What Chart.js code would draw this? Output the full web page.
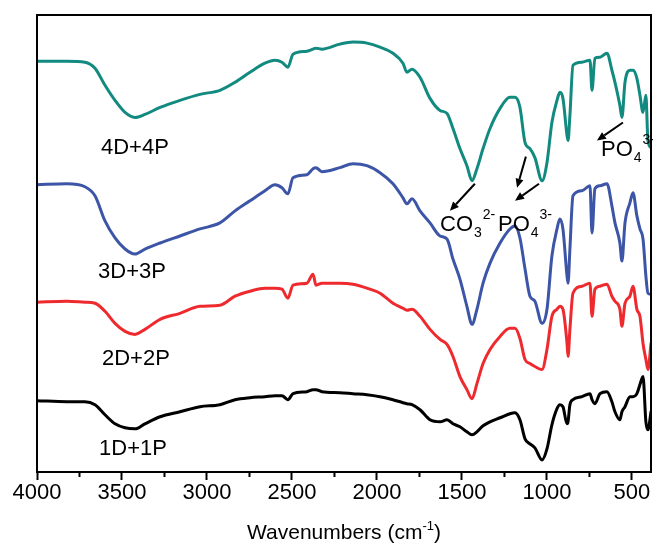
<!DOCTYPE html>
<html>
<head>
<meta charset="utf-8">
<script src="https://cdn.jsdelivr.net/npm/chart.js@4.4.1/dist/chart.umd.min.js"></script>
<style>
  html, body { margin: 0; padding: 0; background: #fff; }
  #wrap { width: 653px; height: 547px; }
</style>
</head>
<body>
<div id="wrap"><canvas id="ftir" width="653" height="547"></canvas></div>
<script>
// Wavenumbers (cm-1) where the spectra were read
const wavenumbers = [4000, 3824, 3718, 3659, 3600, 3541, 3482, 3424, 3365, 3276, 3159, 3041, 2924, 2835, 2747, 2659, 2600, 2559, 2524, 2494, 2412, 2376, 2359, 2324, 2218, 2141, 2059, 1982, 1906, 1847, 1824, 1794, 1747, 1688, 1629, 1588, 1553, 1512, 1471, 1441, 1412, 1376, 1335, 1276, 1218, 1188, 1159, 1129, 1100, 1071, 1029, 1000, 971, 941, 924, 906, 882, 876, 865, 847, 794, 747, 735, 718, 688, 647, 618, 600, 571, 559, 541, 512, 494, 471, 453, 435, 418, 406, 388];

// Transmittance (arbitrary units, curves stacked with offsets)
const t1D1P = [71, 70, 70, 67, 57, 48, 44, 43, 48, 55, 60, 65, 67, 72, 74, 75, 76, 76, 72, 78, 80, 82, 82, 80, 79, 78, 77, 75, 72, 69, 68, 67, 62, 52, 50, 52, 48, 45, 40, 37, 40, 46, 50, 54, 58, 59, 52, 33, 28, 24, 12, 23, 47, 63, 67, 65, 48, 50, 67, 72, 75, 78, 72, 68, 78, 80, 70, 60, 52, 60, 65, 75, 75, 78, 87, 95, 50, 42, 60];
const t2D2P = [169, 170, 169, 168, 160, 148, 140, 137, 142, 152, 158, 165, 166, 175, 180, 183, 183, 182, 173, 186, 188, 197, 186, 188, 188, 187, 183, 178, 168, 163, 161, 162, 155, 142, 132, 127, 115, 95, 82, 73, 88, 108, 122, 135, 143, 143, 133, 112, 108, 105, 102, 122, 155, 162, 165, 162, 128, 115, 142, 178, 185, 188, 155, 182, 185, 187, 175, 170, 162, 145, 168, 175, 185, 162, 155, 128, 112, 102, 128];
const t3D3P = [286, 287, 284, 275, 250, 233, 222, 217, 222, 228, 235, 242, 248, 260, 270, 280, 286, 283, 277, 293, 296, 302, 303, 299, 303, 307, 305, 298, 287, 273, 267, 272, 260, 248, 235, 232, 212, 192, 165, 147, 162, 188, 208, 228, 242, 245, 233, 202, 175, 170, 148, 162, 215, 242, 252, 242, 195, 188, 222, 275, 280, 285, 238, 282, 285, 287, 265, 248, 228, 210, 248, 268, 278, 255, 242, 232, 195, 178, 177];
const t4D4P = [409, 409, 408, 402, 385, 370, 358, 353, 356, 363, 370, 376, 380, 388, 398, 407, 410, 408, 403, 416, 419, 421, 422, 421, 426, 428, 427, 423, 417, 407, 398, 401, 393, 372, 360, 357, 342, 322, 305, 290, 302, 322, 342, 362, 373, 373, 363, 328, 322, 313, 290, 308, 348, 370, 378, 372, 335, 330, 355, 405, 408, 410, 380, 412, 413, 417, 400, 388, 365, 353, 388, 400, 400, 392, 375, 358, 375, 330, 323];

// Axis ticks
const majorTicks = [4000, 3500, 3000, 2500, 2000, 1500, 1000, 500];
const minorTicks = [3750, 3250, 2750, 2250, 1750, 1250, 750];

// Sample names and band assignments (placed in data units)
const sampleLabels = [
  { text: '4D+4P', x: 3424, y: 323 },
  { text: '3D+3P', x: 3441, y: 199 },
  { text: '2D+2P', x: 3418, y: 113 },
  { text: '1D+1P', x: 3435, y: 23 }
];
const bandLabels = [
  { main: 'CO', sub: '3', sup: '2-', x: 1629, y: 240 },
  { main: 'PO', sub: '4', sup: '3-', x: 1288, y: 240 },
  { main: 'PO', sub: '4', sup: '3-', x: 682, y: 315 }
];
const arrows = [
  { from: [1424, 287], to: [1571, 260] },
  { from: [1124, 314], to: [1176, 283] },
  { from: [1047, 287], to: [1188, 270] },
  { from: [553, 348], to: [706, 330] }
];

const FONT = 'Arial, "Liberation Sans", Helvetica, sans-serif';

function toPoints(values) {
  return wavenumbers.map((w, i) => ({ x: w, y: values[i] }));
}

function series(label, values, color) {
  return {
    label,
    data: toPoints(values),
    borderColor: color,
    borderWidth: 3,
    pointRadius: 0,
    cubicInterpolationMode: 'monotone',
    borderJoinStyle: 'round',
    borderCapStyle: 'round',
    fill: false
  };
}

// Frame, minor ticks, axis title and annotations
const overlay = {
  id: 'overlay',
  afterDraw(chart) {
    const { ctx, chartArea: a, scales: { x, y } } = chart;
    ctx.save();
    ctx.strokeStyle = '#000';
    ctx.fillStyle = '#000';
    ctx.lineWidth = 2;
    ctx.strokeRect(a.left, a.top, a.right - a.left, a.bottom - a.top);

    ctx.beginPath();
    minorTicks.forEach((v) => {
      const px = x.getPixelForValue(v);
      ctx.moveTo(px, a.bottom);
      ctx.lineTo(px, a.bottom + 5);
    });
    ctx.stroke();

    // axis title with superscript
    const cx = (a.left + a.right) / 2;
    const base = 539;
    ctx.textBaseline = 'alphabetic';
    ctx.textAlign = 'left';
    ctx.font = '21px ' + FONT;
    const p1 = 'Wavenumbers (cm', p3 = ')';
    const w1 = ctx.measureText(p1).width, w3 = ctx.measureText(p3).width;
    ctx.font = '13px ' + FONT;
    const w2 = ctx.measureText('-1').width;
    let sx = cx - (w1 + w2 + w3) / 2;
    ctx.font = '21px ' + FONT;
    ctx.fillText(p1, sx, base);
    ctx.font = '13px ' + FONT;
    ctx.fillText('-1', sx + w1, base - 9);
    ctx.font = '21px ' + FONT;
    ctx.fillText(p3, sx + w1 + w2, base);

    // sample names
    ctx.textAlign = 'center';
    ctx.textBaseline = 'middle';
    ctx.font = '22px ' + FONT;
    sampleLabels.forEach((l) => {
      ctx.fillText(l.text, x.getPixelForValue(l.x), y.getPixelForValue(l.y));
    });

    // ion labels
    ctx.textAlign = 'left';
    ctx.textBaseline = 'alphabetic';
    bandLabels.forEach((b) => {
      const bx = x.getPixelForValue(b.x), by = y.getPixelForValue(b.y);
      ctx.font = '22px ' + FONT;
      ctx.fillText(b.main, bx, by);
      const mw = ctx.measureText(b.main).width;
      ctx.font = '14px ' + FONT;
      ctx.fillText(b.sub, bx + mw + 1, by + 6);
      const sw = ctx.measureText(b.sub).width;
      ctx.fillText(b.sup, bx + mw + sw + 2, by - 12);
    });

    // arrows
    arrows.forEach((ar) => {
      const x0 = x.getPixelForValue(ar.from[0]), y0 = y.getPixelForValue(ar.from[1]);
      const x1 = x.getPixelForValue(ar.to[0]), y1 = y.getPixelForValue(ar.to[1]);
      const ang = Math.atan2(y1 - y0, x1 - x0);
      const hl = 9, hw = 4;
      const bxp = x1 - hl * Math.cos(ang), byp = y1 - hl * Math.sin(ang);
      ctx.beginPath();
      ctx.moveTo(x0, y0);
      ctx.lineTo(bxp, byp);
      ctx.stroke();
      ctx.beginPath();
      ctx.moveTo(x1, y1);
      ctx.lineTo(bxp + hw * Math.sin(ang), byp - hw * Math.cos(ang));
      ctx.lineTo(bxp - hw * Math.sin(ang), byp + hw * Math.cos(ang));
      ctx.closePath();
      ctx.fill();
    });
    ctx.restore();
  }
};

new Chart(document.getElementById('ftir').getContext('2d'), {
  type: 'line',
  data: {
    datasets: [
      series('1D+1P', t1D1P, '#000000'),
      series('2D+2P', t2D2P, '#ee2a2f'),
      series('3D+3P', t3D3P, '#3d55a6'),
      series('4D+4P', t4D4P, '#128a80')
    ]
  },
  options: {
    responsive: false,
    animation: false,
    layout: { padding: { left: 37, right: 2, top: 15, bottom: 41 } },
    plugins: { legend: { display: false }, tooltip: { enabled: false } },
    scales: {
      x: {
        type: 'linear',
        reverse: true,
        min: 388,
        max: 4000,
        afterBuildTicks: (scale) => { scale.ticks = majorTicks.map((v) => ({ value: v })); },
        grid: { drawOnChartArea: false, drawTicks: true, tickLength: 8, tickWidth: 2, tickColor: '#000' },
        border: { display: true, color: '#000', width: 2 },
        ticks: {
          autoSkip: false,
          maxRotation: 0,
          padding: 2,
          color: '#000',
          font: { family: FONT, size: 22, lineHeight: 1 },
          callback: (v) => String(v)
        }
      },
      y: { display: false, min: 0, max: 455 }
    }
  },
  plugins: [overlay]
});
</script>
</body>
</html>
